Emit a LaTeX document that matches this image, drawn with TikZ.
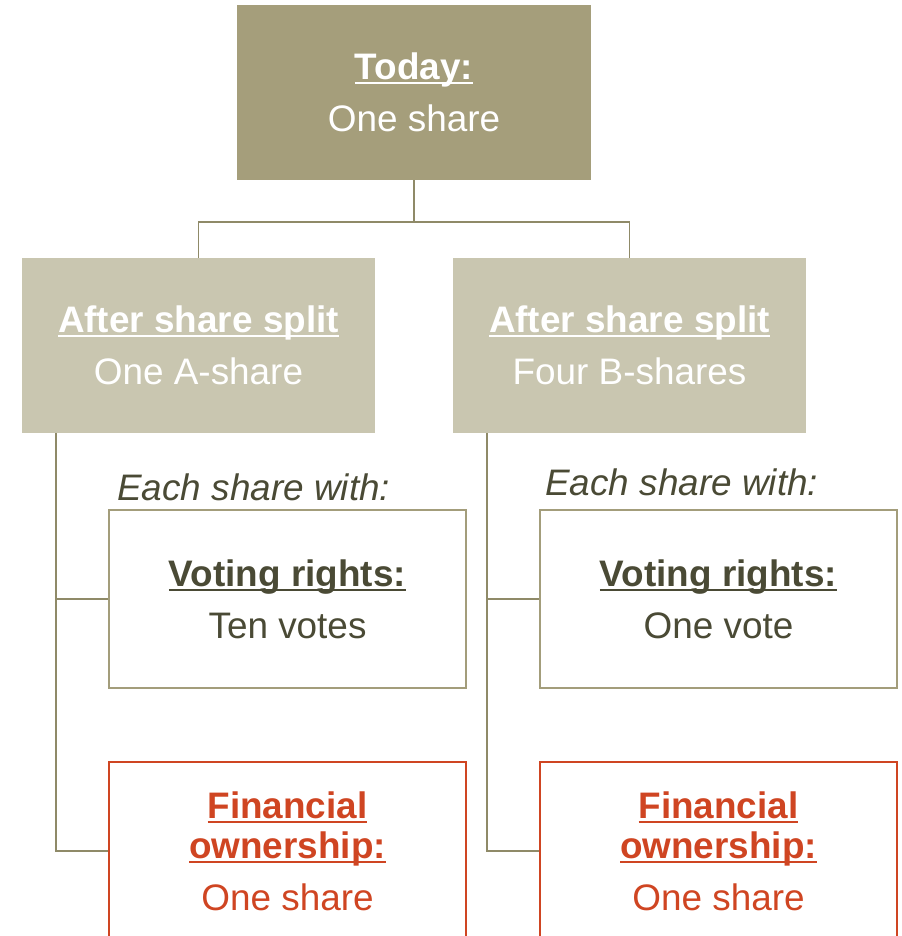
\documentclass[tikz,border=0pt]{standalone}
\usepackage{fontspec}
\setmainfont{Liberation Sans}
\usetikzlibrary{calc}

\definecolor{darkkhaki}{HTML}{A59E7B}
\definecolor{lightkhaki}{HTML}{C9C6B0}
\definecolor{linekhaki}{HTML}{8F8A68}
\definecolor{framekhaki}{HTML}{A39D7B}
\definecolor{textolive}{HTML}{4A4A35}
\definecolor{rust}{HTML}{CF4522}

% underlined heading
\newcommand{\uln}[1]{\setbox0\hbox{#1}\rlap{\rule[-2.6pt]{\wd0}{1.3pt}}\box0}

\tikzset{
  base/.style={font=\fontsize{21}{29.5}\selectfont, align=center, inner sep=0pt},
  topbox/.style={base, fill=darkkhaki, text=white, minimum width=7.08cm, minimum height=3.5cm},
  splitbox/.style={base, fill=lightkhaki, text=white, minimum width=7.06cm, minimum height=3.5cm},
  votebox/.style={base, draw=framekhaki, line width=1.1pt, text=textolive, minimum width=7.14cm, minimum height=3.56cm},
  finbox/.style={base, font=\fontsize{21}{22.7}\selectfont, draw=rust, line width=1.3pt, text=rust, minimum width=7.14cm, minimum height=3.56cm},
  note/.style={font=\fontsize{21}{25}\selectfont\itshape, text=textolive, anchor=west, inner sep=0pt},
  link/.style={draw=linekhaki, line width=1.1pt}
}

\begin{document}
\begin{tikzpicture}[x=0.02cm, y=-0.02cm]
  % page frame
  \useasboundingbox (0,0) rectangle (902,936);

  % top box
  \node[topbox] (today) at (414,92.5) {\textbf{\uln{Today:}}\\One share};

  % boxes after the split
  \node[splitbox] (splitA) at (198.5,345.5) {\textbf{\uln{After share split}}\\One A-share};
  \node[splitbox] (splitB) at (629.5,345.5) {\textbf{\uln{After share split}}\\Four B-shares};

  % fork below the top box
  \coordinate (fork) at (414,222);
  \draw[link] (today.south) -- (fork) -| (splitA.north);
  \draw[link] (fork) -| (splitB.north);

  % notes
  \node[note] (eachA) at (117,487) {Each share with:};
  \node[note] (eachB) at (545,482) {Each share with:};

  % voting rights
  \node[votebox] (voteA) at (287.5,599) {\textbf{\uln{Voting rights:}}\\Ten votes};
  \node[votebox] (voteB) at (718.5,599) {\textbf{\uln{Voting rights:}}\\One vote};

  % financial ownership
  \node[finbox] (finA) at (287.5,851) {\textbf{\uln{Financial}}\\\textbf{\uln{ownership:}}\\[6.8pt]One share};
  \node[finbox] (finB) at (718.5,851) {\textbf{\uln{Financial}}\\\textbf{\uln{ownership:}}\\[6.8pt]One share};

  % side lines
  \draw[link] ($(splitA.south west)+(34,0)$) |- (finA.west);
  \draw[link] ($(splitA.south west)+(34,0)$) |- (voteA.west);
  \draw[link] ($(splitB.south west)+(34,0)$) |- (finB.west);
  \draw[link] ($(splitB.south west)+(34,0)$) |- (voteB.west);
\end{tikzpicture}
\end{document}
